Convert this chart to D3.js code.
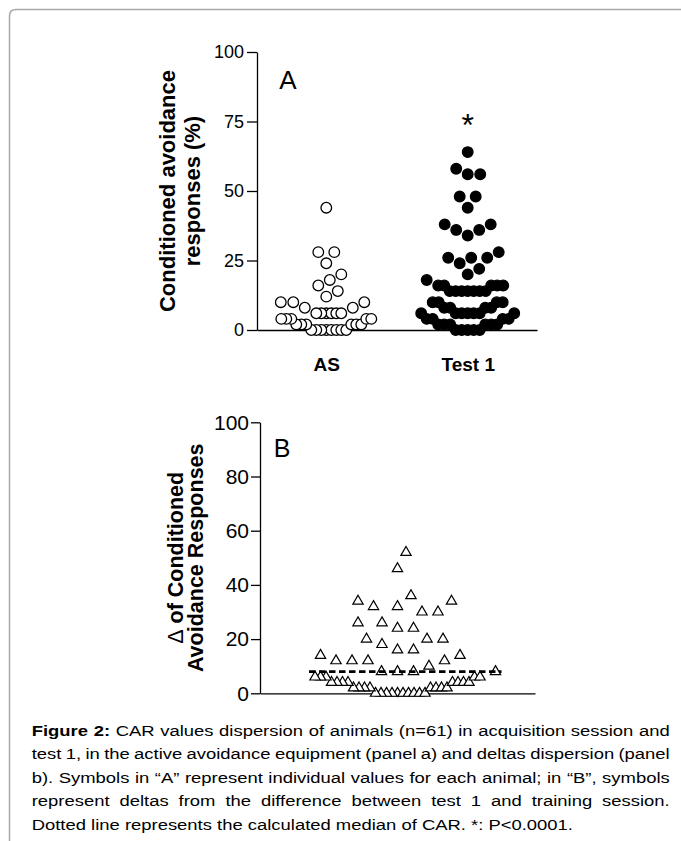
<!DOCTYPE html>
<html>
<head>
<meta charset="utf-8">
<script src="https://cdn.jsdelivr.net/npm/d3@7"></script>
<style>
  body { margin: 0; background: #fff; }
  svg text { font-family: "Liberation Sans", Arial, sans-serif; fill: #000; }
</style>
</head>
<body>
<svg id="fig" width="681" height="841"></svg>
<script>
// values
const categories = ["AS", "Test 1"];
const asValues = [44, 28, 28, 24, 20, 18, 16, 14, 12, 10, 10, 10, 8, 8,
    6, 6, 6, 6, 6, 6, 4, 4, 4, 4, 4, 2, 2, 2, 2, 2, 2, 0, 0, 0, 0, 0, 0, 0, 0];
const test1Values = [64, 58, 56, 56, 48, 48, 44, 38, 38, 36, 36, 34, 28, 26, 26, 26, 24, 22, 20, 18,
    16, 16, 16, 16, 16, 14, 14, 14, 14, 14, 14, 14, 10, 10, 10, 10, 8, 8, 8, 8,
    6, 6, 6, 6, 6, 6, 6, 4, 4, 4, 4, 2, 2, 2, 2, 2, 2, 0, 0, 0, 0, 0];
const deltaValues = [52, 46, 36, 34, 34, 32, 32, 30, 30, 26, 26, 24, 24, 20, 20, 20, 18, 16, 16,
    14, 14, 12, 12, 12, 12, 10, 8, 8, 8, 8, 6, 6, 6, 6, 6,
    4, 4, 4, 4, 4, 4, 4, 4, 2, 2, 2, 2, 2, 2, 2, 2, 0, 0, 0, 0, 0, 0, 0, 0, 0, 0];
const deltaMedian = 8;
const ticksA = [0, 25, 50, 75, 100];
const ticksB = [0, 20, 40, 60, 80, 100];
const captionLines = [
    ["Figure 2:", " CAR values dispersion of animals (n=61) in acquisition session and"],
    ["", "test 1, in the active avoidance equipment (panel a) and deltas dispersion (panel"],
    ["", "b). Symbols in \u201cA\u201d represent individual values for each animal; in \u201cB\u201d, symbols"],
    ["", "represent deltas from the difference between test 1 and training session."],
    ["", "Dotted line represents the calculated median of CAR. *: P<0.0001."]
];

const svg = d3.select("#fig");

// frame round the figure
svg.append("path")
    .attr("d", "M9.5,841 V16 Q9.5,9.5 16,9.5 H681")
    .attr("fill", "none")
    .attr("stroke", "#a8a8a8")
    .attr("stroke-width", 1.5);

// simple beeswarm: each point goes as close to the centre as it can
// without hitting an ellipse round points already placed
function swarm(values, y, spacing, reach) {
    const counts = d3.rollup(values, v => v.length, d => d);
    const placed = [];
    values.slice().sort(d3.ascending).forEach(v => {
        const py = y(v), n = counts.get(v);
        for (let k = 0; k < 4000; k++) {
            const off = (k % 2 ? 1 : -1) * Math.ceil(k / 2) * 0.5;
            const hit = placed.some(q => {
                const a = Math.max(spacing(n), spacing(q.n));
                const dx = (off - q.dx) / a, dy = (py - q.y) / reach;
                return dx * dx + dy * dy < 1;
            });
            if (!hit) { placed.push({ v, y: py, dx: off, n }); break; }
        }
    });
    return placed;
}

function styleAxis(g, size) {
    g.selectAll("path, line").attr("stroke", "#000").attr("stroke-width", 1.3);
    g.selectAll("text").attr("font-size", size).attr("fill", "#000");
}

// ---------- panel A ----------
const yA = d3.scaleLinear().domain([0, 100]).range([330, 52]);
const xA = d3.scalePoint().domain(categories).range([257, 537]).padding(0.49);

svg.append("g")
    .attr("transform", "translate(257,0)")
    .call(d3.axisLeft(yA).tickValues(ticksA).tickSize(10).tickPadding(3).tickSizeOuter(0))
    .call(g => styleAxis(g, 18));

svg.append("g")
    .attr("transform", "translate(0,330)")
    .call(d3.axisBottom(xA).tickSize(0).tickPadding(28).tickSizeOuter(0))
    .call(g => styleAxis(g, 19))
    .call(g => g.selectAll("text").attr("font-weight", "bold"));

const spacingA = [n => n >= 4 ? 5 : 12.5, n => n >= 4 ? 5.6 : 12.5];
[[asValues, "#fff"], [test1Values, "#000"]].forEach(([vals, fill], i) => {
    const pts = swarm(vals, yA, spacingA[i], 14);
    svg.append("g").selectAll("circle")
        .data(pts)
        .enter()
        .append("circle")
        .attr("cx", d => xA(categories[i]) + d.dx)
        .attr("cy", d => d.y)
        .attr("r", 5.3)
        .attr("fill", fill)
        .attr("stroke", "#000")
        .attr("stroke-width", 1.3);
});

svg.append("text")
    .attr("x", 288).attr("y", 89)
    .attr("text-anchor", "middle")
    .attr("font-size", 26)
    .text("A");

svg.append("text")
    .attr("x", xA("Test 1")).attr("y", 136)
    .attr("text-anchor", "middle")
    .attr("font-size", 32)
    .text("*");

const titleA = svg.append("text")
    .attr("transform", `translate(0,${(yA(0) + yA(100)) / 2}) rotate(-90)`)
    .attr("text-anchor", "middle")
    .attr("font-size", 22)
    .attr("font-weight", "bold");
titleA.append("tspan").attr("x", 0).attr("y", 175).text("Conditioned avoidance");
titleA.append("tspan").attr("x", 0).attr("y", 200).text("responses (%)");

// ---------- panel B ----------
const yB = d3.scaleLinear().domain([0, 100]).range([693.3, 422.3]);
const xB = d3.scalePoint().domain(["delta"]).range([260, 535]).padding(0.5);

svg.append("g")
    .attr("transform", "translate(260,0)")
    .call(d3.axisLeft(yB).tickValues(ticksB).tickSize(9).tickPadding(2).tickSizeOuter(0))
    .call(g => styleAxis(g, 21));

svg.append("g")
    .attr("transform", "translate(0,693.3)")
    .call(d3.axisBottom(xB).tickSize(4).tickFormat("").tickSizeOuter(0))
    .call(g => styleAxis(g, 12));

const ptsB = swarm(deltaValues, yB, n => n >= 5 ? 5.5 : 16, 19);
const tri = d3.symbol().type(d3.symbolTriangle).size(46);
svg.append("g").selectAll("path")
    .data(ptsB)
    .enter()
    .append("path")
    .attr("d", tri)
    .attr("transform", d => `translate(${xB("delta") + d.dx},${d.y})`)
    .attr("fill", "#fff")
    .attr("stroke", "#000")
    .attr("stroke-width", 1.2);

const ext = d3.extent(ptsB.filter(d => d.v <= deltaMedian), d => d.dx);
svg.append("line")
    .attr("x1", xB("delta") + ext[0] - 6)
    .attr("x2", xB("delta") + ext[1] + 6)
    .attr("y1", yB(deltaMedian))
    .attr("y2", yB(deltaMedian))
    .attr("stroke", "#000")
    .attr("stroke-width", 2.6)
    .attr("stroke-dasharray", "6.5,3.5");

svg.append("text")
    .attr("x", 282).attr("y", 457)
    .attr("text-anchor", "middle")
    .attr("font-size", 25)
    .text("B");

const titleB = svg.append("text")
    .attr("transform", `translate(0,${(yB(0) + yB(100)) / 2}) rotate(-90)`)
    .attr("text-anchor", "middle")
    .attr("font-size", 21.5)
    .attr("font-weight", "bold");
const l1 = titleB.append("tspan").attr("x", 0).attr("y", 183);
l1.append("tspan").attr("font-weight", "normal").text("\u0394");
l1.append("tspan").text(" of Conditioned");
titleB.append("tspan").attr("x", 0).attr("y", 203).text("Avoidance Responses");

// ---------- caption ----------
// type is a little wide in the picture; lines 1-4 justified through word gaps
const baselines = [735.5, 759, 782.5, 806, 829.5];
const stretch = 1.19, lineWidth = 638;
captionLines.forEach((line, i) => {
    const g = svg.append("g")
        .attr("transform", `translate(31.7,${baselines[i]}) scale(${stretch},1)`);
    const t = g.append("text").attr("font-size", 15.5);
    if (line[0]) t.append("tspan").attr("font-weight", "bold").text(line[0]);
    t.append("tspan").text(line[1]);
    if (i < 4) {
        const natural = t.node().getComputedTextLength();
        const gaps = (line.join("").match(/ /g) || []).length;
        t.attr("word-spacing", (lineWidth / stretch - natural) / gaps);
    }
});
</script>
</body>
</html>
